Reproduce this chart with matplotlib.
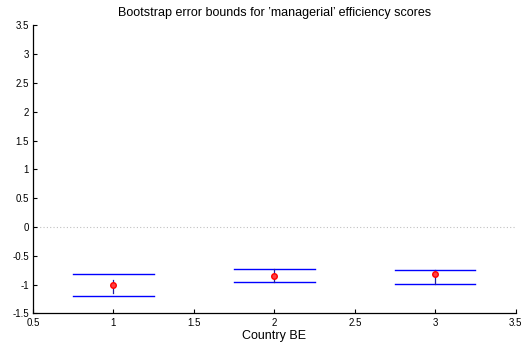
import matplotlib
matplotlib.use("Agg")
import matplotlib.pyplot as plt

plt.rcParams['font.family'] = ['Liberation Sans', 'DejaVu Sans']

countries = [1, 2, 3]
point_est = [-1.005, -0.845, -0.82]
upper_bound = [-0.815, -0.735, -0.745]
lower_bound = [-1.195, -0.96, -0.995]
seg_top = [-0.92, -0.735, -0.745]
seg_bot = [-1.14, -0.96, -0.995]
half_width = 0.25

xticks = [0.5, 1, 1.5, 2, 2.5, 3, 3.5]
xticklabels = ['0.5', '1', '1.5', '2', '2.5', '3', '3.5']
yticks = [-1.5, -1, -0.5, 0, 0.5, 1, 1.5, 2, 2.5, 3, 3.5]
yticklabels = ['-1.5', '-1', '-0.5', '0', '0.5', '1', '1.5', '2', '2.5', '3', '3.5']

fig = plt.figure(figsize=(5.22, 3.47), dpi=100)
ax = fig.add_axes([0.063, 0.097, 0.925, 0.830])

ax.axhline(0, color='#c0c0c0', linestyle=(0, (1, 2)), linewidth=0.8, zorder=1)

for x, u, l, st, sb, p in zip(countries, upper_bound, lower_bound, seg_top, seg_bot, point_est):
    ax.plot([x - half_width, x + half_width], [u, u], color='#0000ff', linewidth=1.0)
    ax.plot([x - half_width, x + half_width], [l, l], color='#0000ff', linewidth=1.0)
    ax.plot([x, x], [sb, st], color='#2020a0', linewidth=0.9)
    ax.plot([x], [p], marker='o', markersize=4, markerfacecolor='#ff4040',
            markeredgecolor='#ff0000', markeredgewidth=1.0, linestyle='none', zorder=5)

ax.set_xlim(0.5, 3.5)
ax.set_ylim(-1.5, 3.5)
ax.set_xticks(xticks)
ax.set_xticklabels(xticklabels)
ax.set_yticks(yticks)
ax.set_yticklabels(yticklabels)
ax.tick_params(direction='in', length=3, width=0.8, labelsize=7, pad=3)
ax.spines['top'].set_visible(False)
ax.spines['right'].set_visible(False)
ax.spines['left'].set_linewidth(0.9)
ax.spines['bottom'].set_linewidth(0.9)

ax.set_title("Bootstrap error bounds for \u2019managerial\u2019 efficiency scores", fontsize=9, pad=7)
ax.set_xlabel("Country BE", fontsize=9, labelpad=2)

fig.savefig("out.png", dpi=100)
